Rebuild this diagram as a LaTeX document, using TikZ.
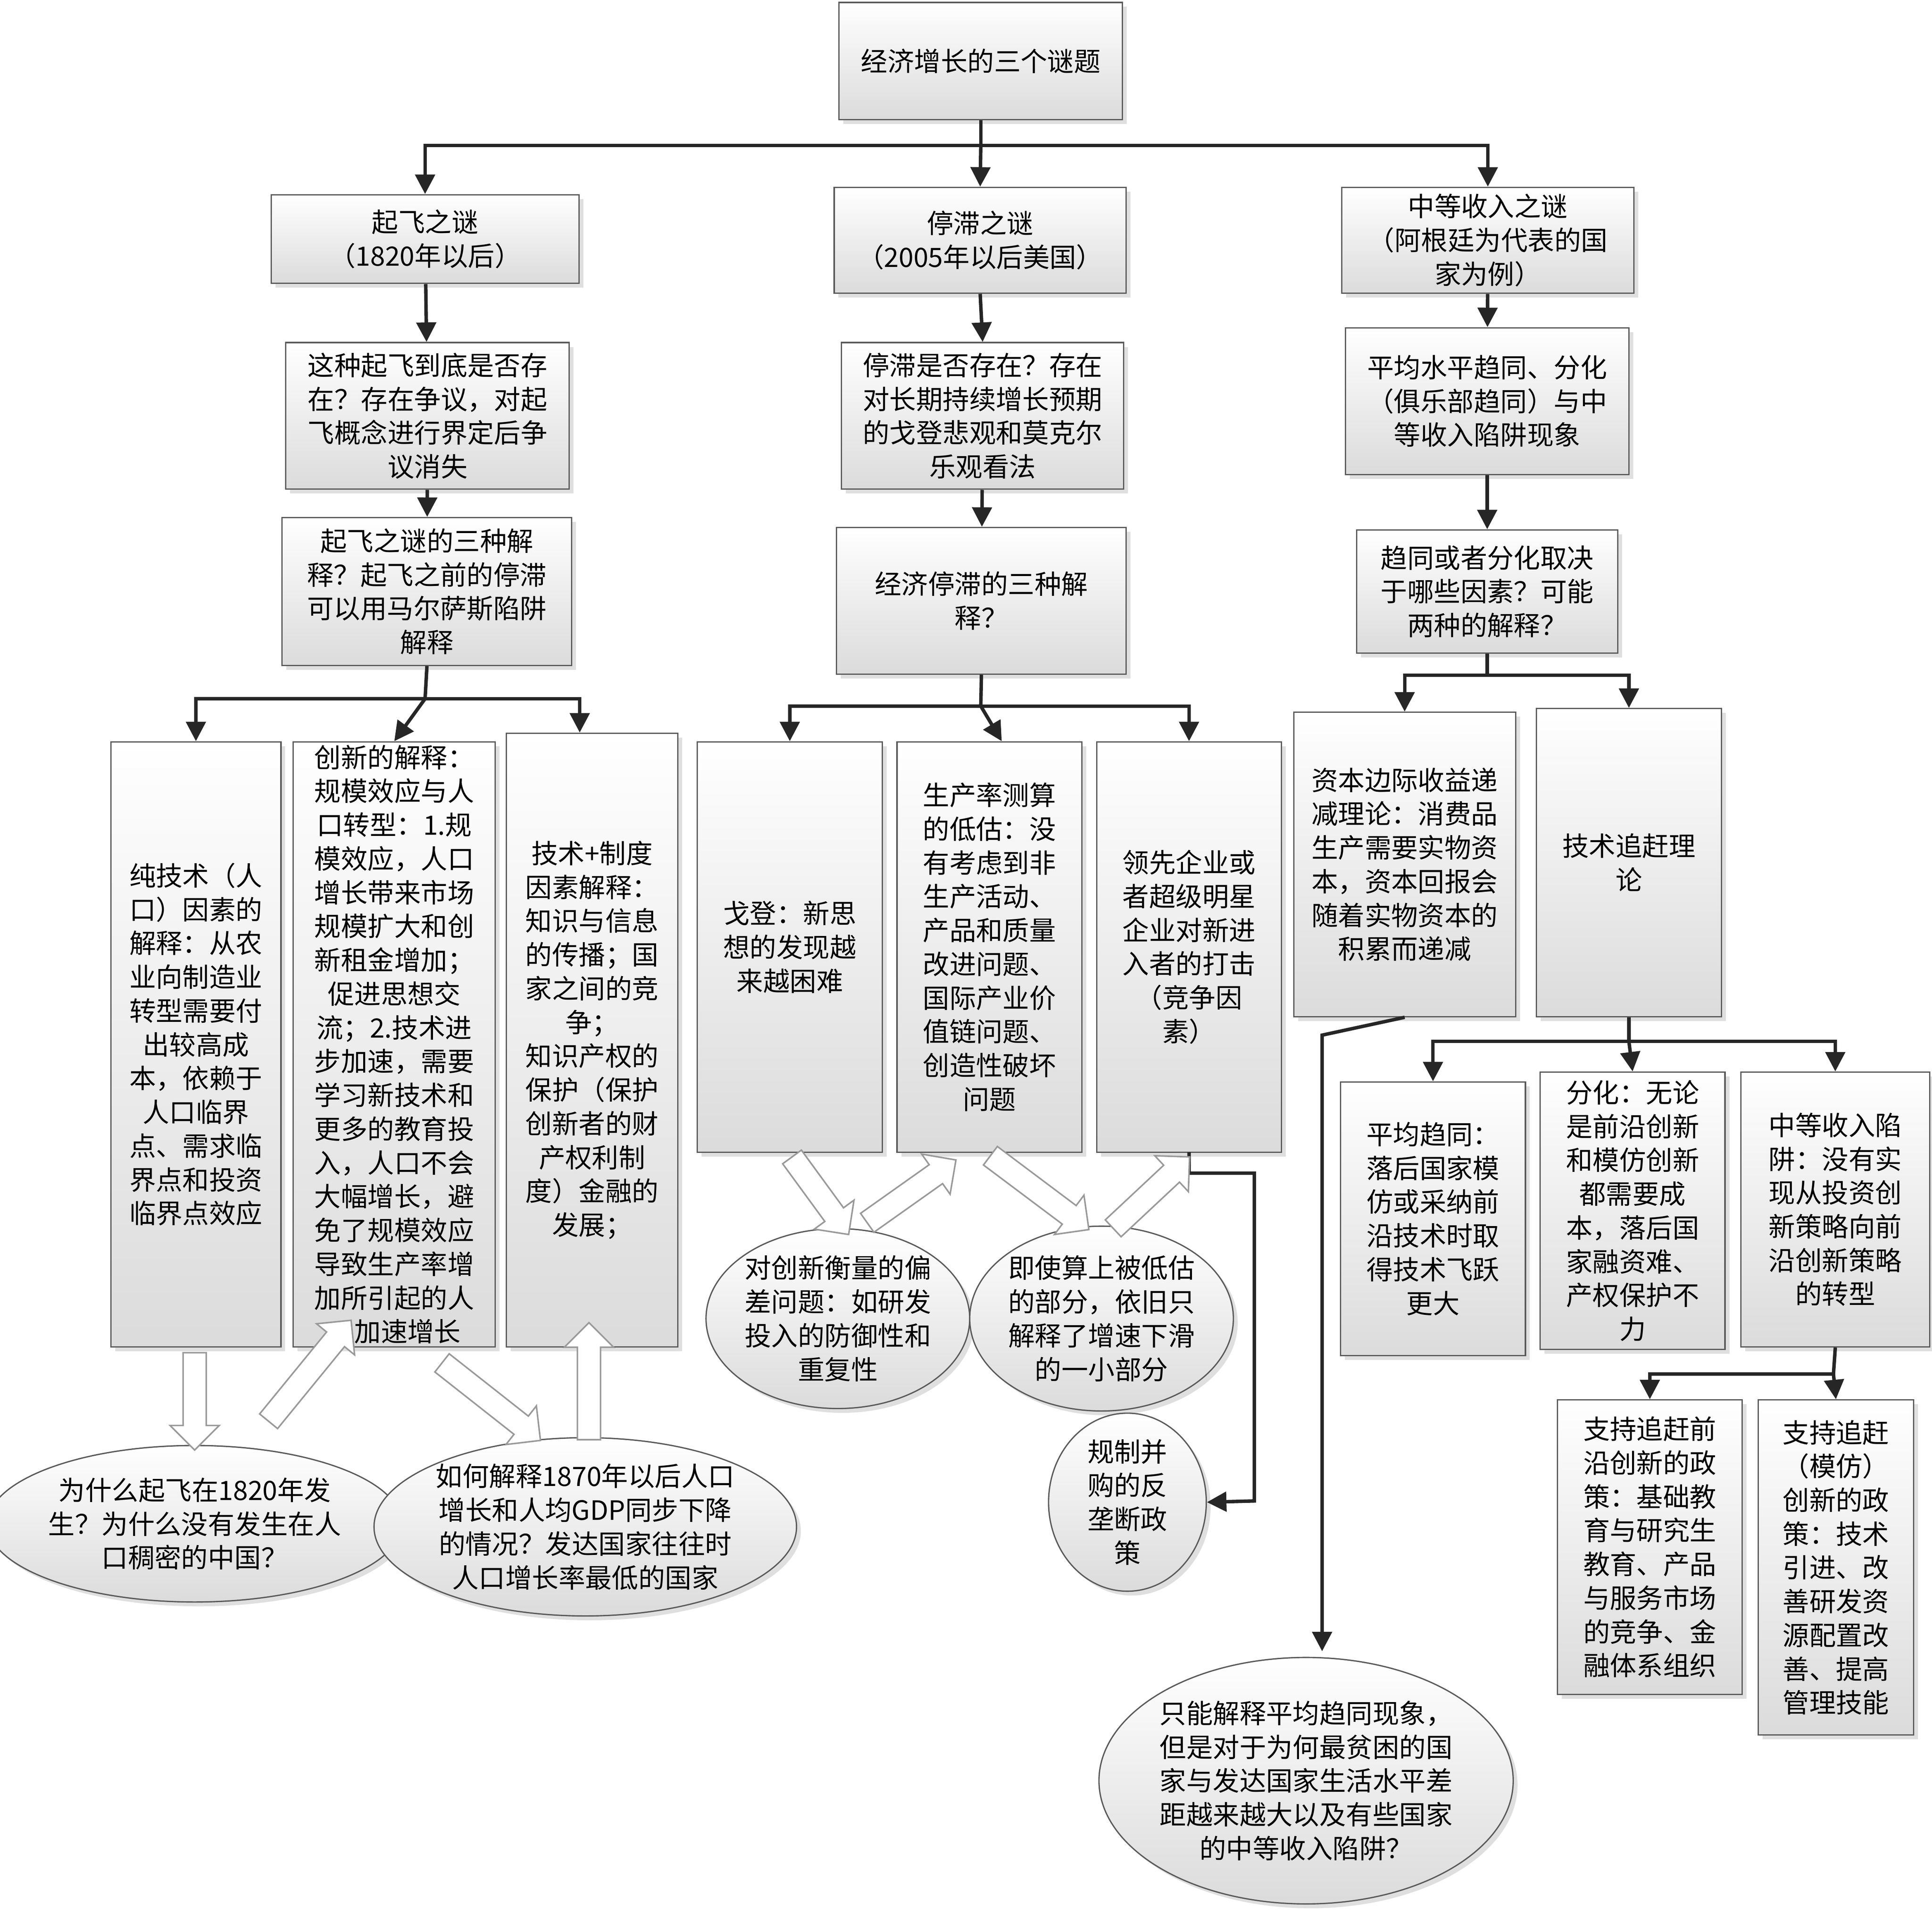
\documentclass[tikz,border=0pt]{standalone}
\usepackage{fontspec}
\setmainfont{Noto Sans CJK SC}
\usetikzlibrary{shapes.geometric,shapes.arrows,shadows,calc,arrows.meta}
\tikzset{
  box/.style={draw=gray!70!black,line width=0.6pt,top color=white,bottom color=gray!28,drop shadow={opacity=0.25,shadow xshift=2pt,shadow yshift=-2pt},align=center,inner sep=1pt,font=\fontsize{12.3}{15.6}\selectfont},
  ell/.style={ellipse,draw=gray!70!black,line width=0.6pt,top color=white,bottom color=gray!28,drop shadow={opacity=0.25,shadow xshift=2pt,shadow yshift=-2pt},align=center,inner sep=0pt,font=\fontsize{12.3}{15.6}\selectfont},
  conn/.style={draw=black!85,line width=1.6pt,-{Triangle[length=9pt,width=9pt]}},
  hollow/.style={single arrow,draw=gray!80,fill=white,line width=0.7pt,inner sep=5pt,single arrow head extend=6pt,single arrow head indent=0pt}
}
\newcommand{\bx}[7][box]{\node[#1,minimum width={0.02cm*(#5-#3)},minimum height={0.02cm*(#6-#4)}] (#2) at ({(#3+#5)/2},{(#4+#6)/2}) {#7};}
\newcommand{\harr}[2]{\path let \p1=($(#2)-(#1)$), \n1={atan2(\y1,\x1)}, \n2={veclen(\x1,\y1)} in node[hollow,minimum height=\n2,rotate=\n1] at ($(#1)!0.5!(#2)$) {};}
\begin{document}
\begin{tikzpicture}[x=0.02cm,y=-0.02cm]
\useasboundingbox (0,0) rectangle (1568,1551.3);
\bx{root}{681}{2}{911}{97}{经济增长的三个谜题}
\bx{A1}{220}{158}{470}{230}{起飞之谜\\（1820年以后）}
\bx{B1}{677}{152}{914}{238}{停滞之谜\\（2005年以后美国）}
\bx{C1}{1089}{152}{1326}{238}{中等收入之谜\\（阿根廷为代表的国\\家为例）}
\bx{A2}{232}{278}{462}{397}{这种起飞到底是否存\\在？存在争议，对起\\飞概念进行界定后争\\议消失}
\bx{B2}{683}{278}{912}{397}{停滞是否存在？存在\\对长期持续增长预期\\的戈登悲观和莫克尔\\乐观看法}
\bx{C2}{1092}{266}{1322}{385}{平均水平趋同、分化\\（俱乐部趋同）与中\\等收入陷阱现象}
\bx{A3}{229}{420}{464}{540}{起飞之谜的三种解\\释？起飞之前的停滞\\可以用马尔萨斯陷阱\\解释}
\bx{B3}{679}{428}{914}{547}{经济停滞的三种解\\释？}
\bx{C3}{1101}{430}{1313}{530}{趋同或者分化取决\\于哪些因素？可能\\两种的解释？}
\bx{A4a}{90}{602}{228}{1093}{纯技术（人\\口）因素的\\解释：从农\\业向制造业\\转型需要付\\出较高成\\本，依赖于\\人口临界\\点、需求临\\界点和投资\\临界点效应}
\bx{A4b}{238}{602}{402}{1093}{创新的解释：\\规模效应与人\\口转型：1.规\\模效应，人口\\增长带来市场\\规模扩大和创\\新租金增加；\\促进思想交\\流；2.技术进\\步加速，需要\\学习新技术和\\更多的教育投\\入，人口不会\\大幅增长，避\\免了规模效应\\导致生产率增\\加所引起的人\\口加速增长}
\bx{A4c}{411}{595}{550}{1093}{技术+制度\\因素解释：\\知识与信息\\的传播；国\\家之间的竞\\争；\\知识产权的\\保护（保护\\创新者的财\\产权利制\\度）金融的\\发展；}
\bx{B4a}{566}{602}{716}{935}{戈登：新思\\想的发现越\\来越困难}
\bx{B4b}{728}{602}{878}{935}{生产率测算\\的低估：没\\有考虑到非\\生产活动、\\产品和质量\\改进问题、\\国际产业价\\值链问题、\\创造性破坏\\问题}
\bx{B4c}{890}{602}{1040}{935}{领先企业或\\者超级明星\\企业对新进\\入者的打击\\（竞争因\\素）}
\bx{C4a}{1050}{578}{1230}{825}{资本边际收益递\\减理论：消费品\\生产需要实物资\\本，资本回报会\\随着实物资本的\\积累而递减}
\bx{C4b}{1247}{575}{1397}{825}{技术追赶理\\论}
\bx{C5a}{1088}{878}{1238}{1100}{平均趋同：\\落后国家模\\仿或采纳前\\沿技术时取\\得技术飞跃\\更大}
\bx{C5b}{1250}{870}{1400}{1095}{分化：无论\\是前沿创新\\和模仿创新\\都需要成\\本，落后国\\家融资难、\\产权保护不\\力}
\bx{C5c}{1413}{870}{1566}{1093}{中等收入陷\\阱：没有实\\现从投资创\\新策略向前\\沿创新策略\\的转型}
\bx{C6a}{1264}{1136}{1414}{1375}{支持追赶前\\沿创新的政\\策：基础教\\育与研究生\\教育、产品\\与服务市场\\的竞争、金\\融体系组织}
\bx{C6b}{1427}{1136}{1553}{1408}{支持追赶\\（模仿）\\创新的政\\策：技术\\引进、改\\善研发资\\源配置改\\善、提高\\管理技能}
\bx[ell]{E1}{1}{1173}{315}{1300}{为什么起飞在1820年发\\生？为什么没有发生在人\\口稠密的中国？}
\bx[ell]{E2}{320}{1170}{630}{1308}{如何解释1870年以后人口\\增长和人均GDP同步下降\\的情况？发达国家往往时\\人口增长率最低的国家}
\bx[ell]{E3}{573}{997}{787}{1143}{对创新衡量的偏\\差问题：如研发\\投入的防御性和\\重复性}
\bx[ell]{E4}{787}{995}{1001}{1145}{即使算上被低估\\的部分，依旧只\\解释了增速下滑\\的一小部分}
\bx[ell]{E5}{851}{1153}{979}{1285}{规制并\\购的反\\垄断政\\策}
\bx[ell]{E6}{920}{1345}{1200}{1545}{只能解释平均趋同现象，\\但是对于为何最贫困的国\\家与发达国家生活水平差\\距越来越大以及有些国家\\的中等收入陷阱？}
% connectors
\coordinate (r1) at (796,118);
\draw[conn] (root.south) -- (r1) -| (A1.north);
\draw[conn] (r1) -| (C1.north);
\draw[conn] (r1) -- (B1.north);
\draw[conn] (A1) -- (A2);
\draw[conn] (A2) -- (A3);
\draw[conn] (B1.south) -- (B2.north);
\draw[conn] (B2) -- (B3);
\draw[conn] (C1) -- (C2);
\draw[conn] (C2) -- (C3);
\coordinate (a1) at (345,567);
\draw[conn] (A3.south) -- (a1) -| (A4a.north);
\draw[conn] (a1) -- (A4b.north);
\draw[conn] (a1) -| ([xshift=-0.2cm]A4c.north);
\coordinate (b1) at (796,573);
\draw[conn] (B3.south) -- (b1) -| (B4a.north);
\draw[conn] (b1) -- ([xshift=0.2cm]B4b.north);
\draw[conn] (b1) -| (B4c.north);
\coordinate (c1) at (1207,548);
\draw[conn] (C3.south) -- (c1) -| (C4a.north);
\draw[conn] (c1) -| (C4b.north);
\coordinate (c2) at (1322,845);
\draw[conn] (C4b.south) -- (c2) -| (C5a.north);
\draw[conn] (c2) -- (C5b.north);
\draw[conn] (c2) -| (C5c.north);
\coordinate (c3) at (1488,1115);
\draw[conn] (C5c.south) -- (c3) -| (C6a.north);
\draw[conn] (c3) -- (C6b.north);
\coordinate (d1) at (1073,840);
\coordinate (d2) at (1073,1340);
\draw[conn] (C4a.south) -- (d1) -- (d2);
\coordinate (f0) at (965,935);
\coordinate (f1) at (965,952);
\coordinate (f2) at (1018,952);
\coordinate (f3) at (1018,1218);
\draw[conn] (f0) -- (f1) -- (f2) -- (f3) -- (E5.east);
% hollow arrows
\coordinate (h1a) at (158,1093); \coordinate (h1b) at (158,1172);
\coordinate (h2a) at (215,1157); \coordinate (h2b) at (282,1075);
\coordinate (h3a) at (355,1103); \coordinate (h3b) at (435,1166);
\coordinate (h4a) at (478,1173); \coordinate (h4b) at (478,1078);
\coordinate (h5a) at (640,935); \coordinate (h5b) at (686,998);
\coordinate (h6a) at (700,995); \coordinate (h6b) at (772,944);
\coordinate (h7a) at (800,935); \coordinate (h7b) at (880,995);
\coordinate (h8a) at (900,1000); \coordinate (h8b) at (962,942);
\harr{h1a}{h1b}\harr{h2a}{h2b}\harr{h3a}{h3b}\harr{h4a}{h4b}
\harr{h5a}{h5b}\harr{h6a}{h6b}\harr{h7a}{h7b}\harr{h8a}{h8b}
\end{tikzpicture}
\end{document}
